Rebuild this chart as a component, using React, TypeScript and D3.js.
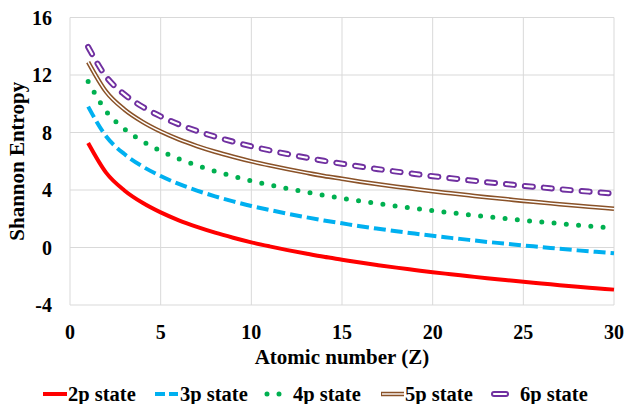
import React from "react";
import * as d3 from "d3";

const atomicNumbers = [
  1, 2, 3, 4, 5, 6, 7, 8, 9, 10, 11, 12, 13, 14, 15, 16, 17, 18, 19, 20, 21, 22, 23, 24, 25, 26, 27, 28, 29, 30,
];

const state2p = [
  7.27, 5.19, 3.97, 3.11, 2.44, 1.89, 1.43, 1.03, 0.68, 0.36, 0.08, -0.18, -0.42, -0.65, -0.85,
  -1.05, -1.23, -1.4, -1.56, -1.72, -1.86, -2.0, -2.14, -2.26, -2.39, -2.5, -2.62, -2.73, -2.83, -2.93,
];
const state3p = [
  9.8, 7.72, 6.5, 5.64, 4.97, 4.42, 3.96, 3.56, 3.21, 2.89, 2.61, 2.35, 2.11, 1.88, 1.68,
  1.48, 1.3, 1.13, 0.97, 0.81, 0.67, 0.53, 0.39, 0.27, 0.14, 0.03, -0.09, -0.2, -0.3, -0.4,
];
const state4p = [
  11.55, 9.47, 8.25, 7.39, 6.72, 6.17, 5.71, 5.31, 4.96, 4.64, 4.36, 4.1, 3.86, 3.63, 3.43,
  3.23, 3.05, 2.88, 2.72, 2.56, 2.42, 2.28, 2.14, 2.02, 1.89, 1.78, 1.66, 1.55, 1.45, 1.35,
];
const state5p = [
  12.9, 10.82, 9.6, 8.74, 8.07, 7.52, 7.06, 6.66, 6.31, 5.99, 5.71, 5.45, 5.21, 4.98, 4.78,
  4.58, 4.4, 4.23, 4.07, 3.91, 3.77, 3.63, 3.49, 3.37, 3.24, 3.13, 3.01, 2.9, 2.8, 2.7,
];
const state6p = [
  13.95, 11.87, 10.65, 9.79, 9.12, 8.57, 8.11, 7.71, 7.36, 7.04, 6.76, 6.5, 6.26, 6.03, 5.83,
  5.63, 5.45, 5.28, 5.12, 4.96, 4.82, 4.68, 4.54, 4.42, 4.29, 4.18, 4.06, 3.95, 3.85, 3.75,
];

const xTicks = [0, 5, 10, 15, 20, 25, 30];
const yTicks = [-4, 0, 4, 8, 12, 16];
const seriesNames = ["2p state", "3p state", "4p state", "5p state", "6p state"];

const width = 628;
const height = 404;
const margin = { top: 17.5, right: 14, bottom: 99, left: 70 };
const font = "Liberation Serif, Times New Roman, serif";

export default function App() {
  const x = d3.scaleLinear().domain([0, 30]).range([margin.left, width - margin.right]);
  const y = d3.scaleLinear().domain([-4, 16]).range([height - margin.bottom, margin.top]);

  const line = (vals: number[]) =>
    d3
      .line<number>()
      .x((_, i) => x(atomicNumbers[i]))
      .y((d) => y(d))
      .curve(d3.curveMonotoneX)(vals) as string;

  const txt = { fontFamily: font, fontWeight: 700 } as React.CSSProperties;

  const legendY = 394;
  const legendItems = [
    { x1: 43, x2: 67, tx: 68 },
    { x1: 155, x2: 178, tx: 180 },
    { x1: 267, x2: 280, tx: 293 },
    { x1: 381, x2: 404, tx: 405 },
    { x1: 494, x2: 506, tx: 520 },
  ];

  return (
    <svg
      width={width}
      height={height}
      style={{ position: "absolute", left: 0, top: 0, background: "#fff" }}
    >
      {/* grid */}
      {yTicks.map((t) => (
        <line key={"gy" + t} x1={x(0)} x2={x(30)} y1={y(t)} y2={y(t)} stroke="#d9d9d9" strokeWidth={1} />
      ))}
      {xTicks.map((t) => (
        <line key={"gx" + t} x1={x(t)} x2={x(t)} y1={y(-4)} y2={y(16)} stroke="#d9d9d9" strokeWidth={1} />
      ))}

      {/* tick labels */}
      {yTicks.map((t) => (
        <text key={"ty" + t} x={52} y={y(t)} dy="0.35em" textAnchor="end" style={txt} fontSize={20}>
          {t}
        </text>
      ))}
      {xTicks.map((t) => (
        <text key={"tx" + t} x={x(t)} y={339} textAnchor="middle" style={txt} fontSize={20}>
          {t}
        </text>
      ))}

      {/* axis titles */}
      <text x={x(15)} y={364} textAnchor="middle" style={txt} fontSize={21}>
        Atomic number (Z)
      </text>
      <text transform={`translate(24,${y(6)}) rotate(-90)`} textAnchor="middle" style={txt} fontSize={21}>
        Shannon Entropy
      </text>

      {/* series */}
      <path d={line(state2p)} fill="none" stroke="#ff0000" strokeWidth={4} />
      <path d={line(state3p)} fill="none" stroke="#00b0f0" strokeWidth={4} strokeDasharray="12 5" />
      <path
        d={line(state4p)}
        fill="none"
        stroke="#00b050"
        strokeWidth={5}
        strokeLinecap="round"
        strokeDasharray="0 12.3"
      />
      <path d={line(state5p)} fill="none" stroke="#8a5228" strokeWidth={4.5} />
      <path d={line(state5p)} fill="none" stroke="#fff" strokeWidth={1.4} />
      <path
        d={line(state6p)}
        fill="none"
        stroke="#7030a0"
        strokeWidth={6}
        strokeLinecap="round"
        strokeDasharray="8 11"
      />
      <path
        d={line(state6p)}
        fill="none"
        stroke="#fff"
        strokeWidth={2.2}
        strokeLinecap="round"
        strokeDasharray="8 11"
      />

      {/* legend */}
      <line x1={legendItems[0].x1} x2={legendItems[0].x2} y1={legendY} y2={legendY} stroke="#ff0000" strokeWidth={4} />
      <line
        x1={legendItems[1].x1}
        x2={legendItems[1].x2}
        y1={legendY}
        y2={legendY}
        stroke="#00b0f0"
        strokeWidth={4}
        strokeDasharray="10 4"
      />
      <line
        x1={legendItems[2].x1}
        x2={legendItems[2].x2}
        y1={legendY}
        y2={legendY}
        stroke="#00b050"
        strokeWidth={5}
        strokeLinecap="round"
        strokeDasharray="0 12"
      />
      <line x1={legendItems[3].x1} x2={legendItems[3].x2} y1={legendY} y2={legendY} stroke="#8a5228" strokeWidth={4.5} />
      <line x1={legendItems[3].x1 + 1} x2={legendItems[3].x2} y1={legendY} y2={legendY} stroke="#fff" strokeWidth={1.4} />
      <line
        x1={legendItems[4].x1}
        x2={legendItems[4].x2}
        y1={legendY}
        y2={legendY}
        stroke="#7030a0"
        strokeWidth={6}
        strokeLinecap="round"
      />
      <line
        x1={legendItems[4].x1}
        x2={legendItems[4].x2}
        y1={legendY}
        y2={legendY}
        stroke="#fff"
        strokeWidth={2.2}
        strokeLinecap="round"
      />
      {seriesNames.map((name, i) => (
        <text key={name} x={legendItems[i].tx} y={legendY} dy="0.35em" style={txt} fontSize={20.5}>
          {name}
        </text>
      ))}
    </svg>
  );
}
